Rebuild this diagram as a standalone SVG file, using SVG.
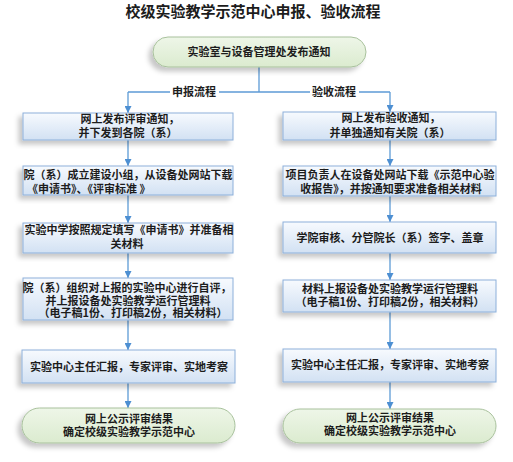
<svg xmlns="http://www.w3.org/2000/svg" width="513" height="462" viewBox="0 0 513 462">
<style>
.t{font-family:"Noto Sans CJK SC","Noto Sans",sans-serif;font-weight:bold;fill:#1c1c1c;text-anchor:middle}
.b{font-size:11px}
.box{fill:url(#gb);stroke:#8db0da;stroke-width:1;filter:url(#sh)}
.term{fill:url(#gg);stroke:#a8c19c;stroke-width:1;filter:url(#sh)}
.ln{stroke:#5d9bd6;stroke-width:1.3;fill:none}
.lab{fill:#fff}
</style>
<defs>
<linearGradient id="gb" x1="0" y1="0" x2="0" y2="1">
<stop offset="0" stop-color="#f7fafe"/>
<stop offset="1" stop-color="#d2e1f3"/>
</linearGradient>
<linearGradient id="gg" x1="0" y1="0" x2="0" y2="1">
<stop offset="0" stop-color="#eef6e8"/>
<stop offset="1" stop-color="#dbebcf"/>
</linearGradient>
<filter id="sh" x="-10%" y="-20%" width="120%" height="150%">
<feDropShadow dx="-4" dy="4" stdDeviation="2.5" flood-color="#000" flood-opacity="0.22"/>
</filter>
<marker id="ar" viewBox="0 0 10 10" refX="10" refY="5" markerWidth="7" markerHeight="7" markerUnits="userSpaceOnUse" orient="auto">
<path d="M0,0 L10,5 L0,10 z" fill="#4d8fd2"/>
</marker>
</defs>

<rect width="513" height="462" fill="#fff"/>
<text class="t" x="253" y="17" font-size="15">校级实验教学示范中心申报、验收流程</text>

<g id="connectors">
<path class="ln" d="M259,67 V92 M128,92 H390"/>
<rect class="lab" x="170" y="85" width="49" height="14"/>
<rect class="lab" x="310" y="85" width="49" height="14"/>
<text class="t b" x="194" y="96">申报流程</text>
<text class="t b" x="334" y="96">验收流程</text>
<path class="ln" marker-end="url(#ar)" d="M128,92 V113"/>
<path class="ln" marker-end="url(#ar)" d="M128,140 V166"/>
<path class="ln" marker-end="url(#ar)" d="M128,195 V223"/>
<path class="ln" marker-end="url(#ar)" d="M128,253 V278"/>
<path class="ln" marker-end="url(#ar)" d="M128,320 V350"/>
<path class="ln" marker-end="url(#ar)" d="M128,383 V408"/>
<path class="ln" marker-end="url(#ar)" d="M390,92 V112"/>
<path class="ln" marker-end="url(#ar)" d="M390,140 V166"/>
<path class="ln" marker-end="url(#ar)" d="M390,196 V222"/>
<path class="ln" marker-end="url(#ar)" d="M390,253 V280"/>
<path class="ln" marker-end="url(#ar)" d="M390,312 V349"/>
<path class="ln" marker-end="url(#ar)" d="M390,382 V409"/>
</g>

<g id="start">
<rect class="term" x="153" y="37" width="213" height="30" rx="15"/>
<text class="t b" x="259" y="56">实验室与设备管理处发布通知</text>
</g>

<g id="l1">
<rect class="box" x="23" y="113" width="210" height="27"/>
<text class="t b"><tspan x="130" y="123">网上发布评审通知，</tspan><tspan x="128" y="137">并下发到各院（系）</tspan></text>
</g>
<g id="l2">
<rect class="box" x="23" y="166" width="210" height="29"/>
<text class="t b"><tspan x="128" y="179">院（系）成立建设小组，从设备处网站下载</tspan><tspan x="27" y="193" style="text-anchor:start">《申请书》、《评审标准 》</tspan></text>
</g>
<g id="l3">
<rect class="box" x="23" y="223" width="210" height="30"/>
<text class="t b"><tspan x="129" y="234">实验中学按照规定填写《申请书》并准备相</tspan><tspan x="127" y="248">关材料</tspan></text>
</g>
<g id="l4">
<rect class="box" x="23" y="278" width="210" height="42"/>
<text class="t b"><tspan x="127" y="292">院（系）组织对上报的实验中心进行自评，</tspan><tspan x="128" y="304.5">并上报设备处实验教学运行管理料</tspan><tspan x="133" y="317">（电子稿1份、打印稿2份，相关材料）</tspan></text>
</g>
<g id="l5">
<rect class="box" x="22" y="350" width="213" height="33"/>
<text class="t b" x="129" y="371">实验中心主任汇报，专家评审、实地考察</text>
</g>
<g id="l6">
<rect class="term" x="22" y="408" width="213" height="35" rx="17.5"/>
<text class="t b"><tspan x="129" y="423">网上公示评审结果</tspan><tspan x="129" y="436">确定校级实验教学示范中心</tspan></text>
</g>

<g id="r1">
<rect class="box" x="283" y="112" width="213" height="28"/>
<text class="t b"><tspan x="391" y="122">网上发布验收通知，</tspan><tspan x="390" y="137">并单独通知有关院（系）</tspan></text>
</g>
<g id="r2">
<rect class="box" x="283" y="166" width="213" height="30"/>
<text class="t b"><tspan x="390" y="179">项目负责人在设备处网站下载《示范中心验</tspan><tspan x="391" y="193">收报告》，并按通知要求准备相关材料</tspan></text>
</g>
<g id="r3">
<rect class="box" x="283" y="222" width="213" height="31"/>
<text class="t b" x="390" y="242">学院审核、分管院长（系）签字、盖章</text>
</g>
<g id="r4">
<rect class="box" x="283" y="280" width="213" height="32"/>
<text class="t b"><tspan x="390" y="293">材料上报设备处实验教学运行管理料</tspan><tspan x="390" y="306">（电子稿1份、打印稿2份，相关材料）</tspan></text>
</g>
<g id="r5">
<rect class="box" x="283" y="349" width="213" height="33"/>
<text class="t b" x="390" y="369">实验中心主任汇报，专家评审、实地考察</text>
</g>
<g id="r6">
<rect class="term" x="283" y="409" width="213" height="34" rx="17"/>
<text class="t b"><tspan x="390" y="422">网上公示评审结果</tspan><tspan x="390" y="435">确定校级实验教学示范中心</tspan></text>
</g>
</svg>
